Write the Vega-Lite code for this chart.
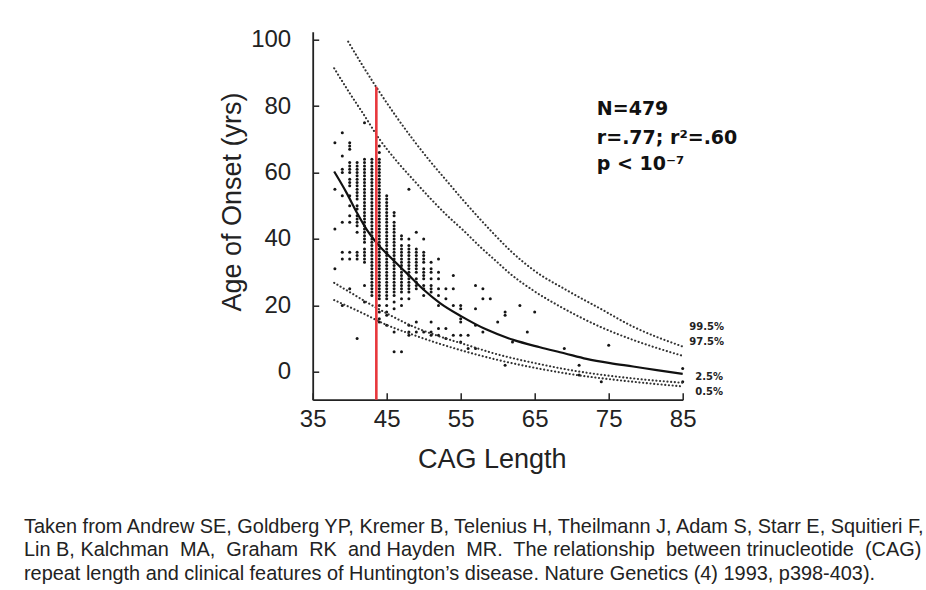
{
  "$schema": "https://vega.github.io/schema/vega-lite/v6.json",
  "width": 370,
  "height": 368,
  "autosize": "none",
  "padding": {"left": 312.7, "top": 31.7, "right": 243.3, "bottom": 190.3},
  "background": "white",
  "config": {"view": {"stroke": null}, "font": "Liberation Sans"},
  "title": {
    "text": [
      "Taken from Andrew SE, Goldberg YP, Kremer B, Telenius H, Theilmann J, Adam S, Starr E, Squitieri F,",
      "Lin B, Kalchman\u00a0 MA,\u00a0 Graham\u00a0 RK\u00a0 and Hayden\u00a0 MR.\u00a0 The relationship\u00a0 between trinucleotide\u00a0 (CAG)",
      "repeat length and clinical features of Huntington’s disease. Nature Genetics (4) 1993, p398-403)."
    ],
    "orient": "bottom",
    "anchor": "start",
    "frame": "group",
    "dx": -288.7,
    "offset": 44,
    "baseline": "top",
    "font": "Liberation Sans",
    "fontSize": 19.9,
    "fontWeight": "normal",
    "color": "#222222",
    "lineHeight": 23.7
  },
  "datasets": {
    "points": [
      {"cag":38,"age":69},{"cag":38,"age":55},{"cag":38,"age":43},{"cag":38,"age":31},
      {"cag":39,"age":72},{"cag":39,"age":65},{"cag":39,"age":61},{"cag":39,"age":60},{"cag":39,"age":53},{"cag":39,"age":45},{"cag":39,"age":36},{"cag":39,"age":34},{"cag":39,"age":20},
      {"cag":40,"age":69},{"cag":40,"age":68},{"cag":40,"age":67},{"cag":40,"age":63},{"cag":40,"age":62},{"cag":40,"age":61},{"cag":40,"age":60},{"cag":40,"age":58},{"cag":40,"age":57},{"cag":40,"age":56},{"cag":40,"age":53},{"cag":40,"age":50},{"cag":40,"age":47},{"cag":40,"age":45},{"cag":40,"age":36},{"cag":40,"age":34},{"cag":40,"age":25},
      {"cag":41,"age":63},{"cag":41,"age":62},{"cag":41,"age":61},{"cag":41,"age":60},{"cag":41,"age":59},{"cag":41,"age":58},{"cag":41,"age":57},{"cag":41,"age":56},{"cag":41,"age":55},{"cag":41,"age":54},{"cag":41,"age":53},{"cag":41,"age":52},{"cag":41,"age":50},{"cag":41,"age":49},{"cag":41,"age":47},{"cag":41,"age":46},{"cag":41,"age":45},{"cag":41,"age":44},{"cag":41,"age":42},{"cag":41,"age":36},{"cag":41,"age":35},{"cag":41,"age":34},{"cag":41,"age":10},
      {"cag":42,"age":75},{"cag":42,"age":64},{"cag":42,"age":63},{"cag":42,"age":62},{"cag":42,"age":61},{"cag":42,"age":60},{"cag":42,"age":59},{"cag":42,"age":58},{"cag":42,"age":57},{"cag":42,"age":56},{"cag":42,"age":55},{"cag":42,"age":54},{"cag":42,"age":53},{"cag":42,"age":52},{"cag":42,"age":51},{"cag":42,"age":50},{"cag":42,"age":49},{"cag":42,"age":48},{"cag":42,"age":47},{"cag":42,"age":46},{"cag":42,"age":45},{"cag":42,"age":44},{"cag":42,"age":43},{"cag":42,"age":42},{"cag":42,"age":41},{"cag":42,"age":40},{"cag":42,"age":39},{"cag":42,"age":37},{"cag":42,"age":36},{"cag":42,"age":35},{"cag":42,"age":34},{"cag":42,"age":33},{"cag":42,"age":26},{"cag":42,"age":21},
      {"cag":43,"age":64},{"cag":43,"age":63},{"cag":43,"age":62},{"cag":43,"age":61},{"cag":43,"age":60},{"cag":43,"age":59},{"cag":43,"age":58},{"cag":43,"age":57},{"cag":43,"age":56},{"cag":43,"age":55},{"cag":43,"age":54},{"cag":43,"age":53},{"cag":43,"age":52},{"cag":43,"age":51},{"cag":43,"age":50},{"cag":43,"age":49},{"cag":43,"age":48},{"cag":43,"age":47},{"cag":43,"age":46},{"cag":43,"age":45},{"cag":43,"age":44},{"cag":43,"age":43},{"cag":43,"age":42},{"cag":43,"age":41},{"cag":43,"age":40},{"cag":43,"age":39},{"cag":43,"age":38},{"cag":43,"age":37},{"cag":43,"age":36},{"cag":43,"age":35},{"cag":43,"age":34},{"cag":43,"age":33},{"cag":43,"age":32},{"cag":43,"age":31},{"cag":43,"age":30},{"cag":43,"age":29},{"cag":43,"age":28},{"cag":43,"age":27},{"cag":43,"age":26},{"cag":43,"age":25},{"cag":43,"age":24},{"cag":43,"age":23},
      {"cag":44,"age":68},{"cag":44,"age":66},{"cag":44,"age":64},{"cag":44,"age":63},{"cag":44,"age":62},{"cag":44,"age":61},{"cag":44,"age":60},{"cag":44,"age":59},{"cag":44,"age":58},{"cag":44,"age":57},{"cag":44,"age":56},{"cag":44,"age":55},{"cag":44,"age":54},{"cag":44,"age":53},{"cag":44,"age":52},{"cag":44,"age":51},{"cag":44,"age":50},{"cag":44,"age":49},{"cag":44,"age":48},{"cag":44,"age":47},{"cag":44,"age":46},{"cag":44,"age":45},{"cag":44,"age":44},{"cag":44,"age":43},{"cag":44,"age":42},{"cag":44,"age":41},{"cag":44,"age":40},{"cag":44,"age":39},{"cag":44,"age":38},{"cag":44,"age":37},{"cag":44,"age":36},{"cag":44,"age":35},{"cag":44,"age":34},{"cag":44,"age":33},{"cag":44,"age":32},{"cag":44,"age":31},{"cag":44,"age":30},{"cag":44,"age":29},{"cag":44,"age":28},{"cag":44,"age":27},{"cag":44,"age":26},{"cag":44,"age":25},{"cag":44,"age":24},{"cag":44,"age":23},{"cag":44,"age":22},{"cag":44,"age":20},{"cag":44,"age":18},{"cag":44,"age":16},{"cag":44,"age":15},
      {"cag":45,"age":53},{"cag":45,"age":52},{"cag":45,"age":51},{"cag":45,"age":50},{"cag":45,"age":49},{"cag":45,"age":48},{"cag":45,"age":47},{"cag":45,"age":46},{"cag":45,"age":45},{"cag":45,"age":44},{"cag":45,"age":43},{"cag":45,"age":42},{"cag":45,"age":41},{"cag":45,"age":40},{"cag":45,"age":39},{"cag":45,"age":38},{"cag":45,"age":37},{"cag":45,"age":36},{"cag":45,"age":35},{"cag":45,"age":34},{"cag":45,"age":33},{"cag":45,"age":32},{"cag":45,"age":31},{"cag":45,"age":30},{"cag":45,"age":29},{"cag":45,"age":28},{"cag":45,"age":27},{"cag":45,"age":26},{"cag":45,"age":25},{"cag":45,"age":24},{"cag":45,"age":23},{"cag":45,"age":22},{"cag":45,"age":20},{"cag":45,"age":18},{"cag":45,"age":17},{"cag":45,"age":14},
      {"cag":46,"age":48},{"cag":46,"age":47},{"cag":46,"age":45},{"cag":46,"age":44},{"cag":46,"age":43},{"cag":46,"age":42},{"cag":46,"age":41},{"cag":46,"age":40},{"cag":46,"age":39},{"cag":46,"age":38},{"cag":46,"age":37},{"cag":46,"age":36},{"cag":46,"age":35},{"cag":46,"age":34},{"cag":46,"age":33},{"cag":46,"age":32},{"cag":46,"age":31},{"cag":46,"age":30},{"cag":46,"age":29},{"cag":46,"age":28},{"cag":46,"age":27},{"cag":46,"age":26},{"cag":46,"age":25},{"cag":46,"age":24},{"cag":46,"age":23},{"cag":46,"age":21},{"cag":46,"age":19},{"cag":46,"age":12},{"cag":46,"age":6},
      {"cag":47,"age":41},{"cag":47,"age":40},{"cag":47,"age":38},{"cag":47,"age":37},{"cag":47,"age":36},{"cag":47,"age":35},{"cag":47,"age":34},{"cag":47,"age":33},{"cag":47,"age":32},{"cag":47,"age":31},{"cag":47,"age":30},{"cag":47,"age":29},{"cag":47,"age":28},{"cag":47,"age":27},{"cag":47,"age":26},{"cag":47,"age":25},{"cag":47,"age":24},{"cag":47,"age":22},{"cag":47,"age":20},{"cag":47,"age":6},
      {"cag":48,"age":55},{"cag":48,"age":40},{"cag":48,"age":38},{"cag":48,"age":37},{"cag":48,"age":36},{"cag":48,"age":35},{"cag":48,"age":34},{"cag":48,"age":33},{"cag":48,"age":32},{"cag":48,"age":31},{"cag":48,"age":30},{"cag":48,"age":29},{"cag":48,"age":28},{"cag":48,"age":27},{"cag":48,"age":26},{"cag":48,"age":25},{"cag":48,"age":24},{"cag":48,"age":22},{"cag":48,"age":14},{"cag":48,"age":12},{"cag":48,"age":11},
      {"cag":49,"age":42},{"cag":49,"age":37},{"cag":49,"age":36},{"cag":49,"age":35},{"cag":49,"age":34},{"cag":49,"age":33},{"cag":49,"age":32},{"cag":49,"age":31},{"cag":49,"age":30},{"cag":49,"age":28},{"cag":49,"age":27},{"cag":49,"age":26},{"cag":49,"age":25},{"cag":49,"age":15},{"cag":49,"age":12},
      {"cag":50,"age":40},{"cag":50,"age":36},{"cag":50,"age":35},{"cag":50,"age":34},{"cag":50,"age":33},{"cag":50,"age":31},{"cag":50,"age":30},{"cag":50,"age":29},{"cag":50,"age":28},{"cag":50,"age":26},{"cag":50,"age":25},{"cag":50,"age":23},{"cag":50,"age":12},
      {"cag":51,"age":33},{"cag":51,"age":31},{"cag":51,"age":30},{"cag":51,"age":28},{"cag":51,"age":26},{"cag":51,"age":25},{"cag":51,"age":24},{"cag":51,"age":15},{"cag":51,"age":12},{"cag":51,"age":11},
      {"cag":52,"age":34},{"cag":52,"age":30},{"cag":52,"age":28},{"cag":52,"age":25},{"cag":52,"age":23},{"cag":52,"age":20},{"cag":52,"age":13},{"cag":52,"age":11},
      {"cag":53,"age":25},{"cag":53,"age":22},{"cag":53,"age":13},{"cag":53,"age":10},
      {"cag":54,"age":29},{"cag":54,"age":25},{"cag":54,"age":20},{"cag":54,"age":11},
      {"cag":55,"age":20},{"cag":55,"age":19},{"cag":55,"age":16},{"cag":55,"age":15},{"cag":55,"age":11},{"cag":55,"age":9},
      {"cag":56,"age":11},{"cag":56,"age":7},
      {"cag":57,"age":26},{"cag":57,"age":19},{"cag":57,"age":14},{"cag":57,"age":7},
      {"cag":58,"age":25},{"cag":58,"age":22},{"cag":58,"age":12},
      {"cag":59,"age":22},
      {"cag":60,"age":15},
      {"cag":61,"age":18},{"cag":61,"age":17},{"cag":61,"age":2},
      {"cag":62,"age":9},
      {"cag":63,"age":20},
      {"cag":64,"age":12},
      {"cag":65,"age":18},
      {"cag":69,"age":7},
      {"cag":71,"age":2},{"cag":71,"age":-1},
      {"cag":74,"age":-3},
      {"cag":75,"age":8},
      {"cag":85,"age":1},{"cag":85,"age":-3}
    ],
    "curves": [
      {"curve":"fit","cag":37.9,"age":60.3},{"curve":"fit","cag":39.6,"age":53.8},{"curve":"fit","cag":41,"age":47.8},{"curve":"fit","cag":42.3,"age":42.8},{"curve":"fit","cag":43.6,"age":38.9},{"curve":"fit","cag":45.4,"age":34.7},{"curve":"fit","cag":47.7,"age":29.7},{"curve":"fit","cag":50,"age":24.7},{"curve":"fit","cag":52.2,"age":20.7},{"curve":"fit","cag":55.1,"age":16.7},{"curve":"fit","cag":58.5,"age":12.7},{"curve":"fit","cag":62.1,"age":9.6},{"curve":"fit","cag":65.7,"age":7.4},{"curve":"fit","cag":69,"age":5.6},{"curve":"fit","cag":72,"age":3.9},{"curve":"fit","cag":75.2,"age":2.6},{"curve":"fit","cag":78.3,"age":1.6},{"curve":"fit","cag":81.5,"age":0.5},{"curve":"fit","cag":85,"age":-0.6},
      {"curve":"p995","cag":39.8,"age":99.4},{"curve":"p995","cag":41.8,"age":92},{"curve":"p995","cag":44.1,"age":84},{"curve":"p995","cag":46.4,"age":76.5},{"curve":"p995","cag":48.6,"age":69.8},{"curve":"p995","cag":50.9,"age":63.3},{"curve":"p995","cag":53.1,"age":57.5},{"curve":"p995","cag":55.4,"age":51.5},{"curve":"p995","cag":57.6,"age":46},{"curve":"p995","cag":59.7,"age":41},{"curve":"p995","cag":61.7,"age":36.5},{"curve":"p995","cag":64.8,"age":30.7},{"curve":"p995","cag":69.3,"age":24.6},{"curve":"p995","cag":73.8,"age":19.1},{"curve":"p995","cag":78.3,"age":13.6},{"curve":"p995","cag":85,"age":7.6},
      {"curve":"p975","cag":37.9,"age":91.4},{"curve":"p975","cag":40,"age":83.9},{"curve":"p975","cag":41.8,"age":77.8},{"curve":"p975","cag":44.1,"age":69.8},{"curve":"p975","cag":46.4,"age":63.3},{"curve":"p975","cag":48.6,"age":57.8},{"curve":"p975","cag":50.9,"age":52.2},{"curve":"p975","cag":53.1,"age":47.2},{"curve":"p975","cag":55.4,"age":42.5},{"curve":"p975","cag":57.6,"age":37.7},{"curve":"p975","cag":59.7,"age":33.5},{"curve":"p975","cag":61.7,"age":29.5},{"curve":"p975","cag":64.8,"age":24.5},{"curve":"p975","cag":69.3,"age":18.6},{"curve":"p975","cag":73.8,"age":13.6},{"curve":"p975","cag":78.3,"age":9.6},{"curve":"p975","cag":85,"age":4.8},
      {"curve":"p025","cag":37.9,"age":26.8},{"curve":"p025","cag":40,"age":24},{"curve":"p025","cag":41.8,"age":21.6},{"curve":"p025","cag":45,"age":17.6},{"curve":"p025","cag":48.6,"age":13.6},{"curve":"p025","cag":52.2,"age":10.6},{"curve":"p025","cag":55.8,"age":8.1},{"curve":"p025","cag":59.4,"age":5.6},{"curve":"p025","cag":65.7,"age":2.3},{"curve":"p025","cag":69.1,"age":0.8},{"curve":"p025","cag":78.3,"age":-2},{"curve":"p025","cag":85,"age":-3.3},
      {"curve":"p005","cag":37.9,"age":21.6},{"curve":"p005","cag":41.8,"age":17.6},{"curve":"p005","cag":45,"age":14.1},{"curve":"p005","cag":48.6,"age":11.1},{"curve":"p005","cag":52.2,"age":8.4},{"curve":"p005","cag":55.8,"age":6},{"curve":"p005","cag":59.4,"age":3.9},{"curve":"p005","cag":65.7,"age":0.9},{"curve":"p005","cag":69.3,"age":-0.5},{"curve":"p005","cag":78.3,"age":-3},{"curve":"p005","cag":85,"age":-4.4}
    ]
  },
  "layer": [
    {
      "data": {"name": "points"},
      "mark": {"type": "circle", "size": 9, "color": "#151515", "opacity": 1},
      "encoding": {
        "x": {
          "field": "cag", "type": "quantitative",
          "scale": {"domain": [35, 85], "nice": false, "zero": false},
          "axis": {
            "title": "CAG Length",
            "values": [35, 40, 45, 50, 55, 60, 65, 70, 75, 80, 85],
            "labelExpr": "datum.value % 10 === 5 ? datum.label : ''",
            "tickSize": {"condition": {"test": "datum.value % 10 === 5", "value": -7}, "value": -4},
            "tickColor": "#222222", "tickWidth": 1.5,
            "domainColor": "#222222", "domainWidth": 1.8,
            "labelFont": "Liberation Sans", "labelFontSize": 24, "labelColor": "#222222", "labelPadding": 15,
            "labelFlush": false, "labelOverlap": false, "grid": false,
            "titleFont": "Liberation Sans", "titleFontSize": 27, "titleFontWeight": "normal", "titleColor": "#222222",
            "titleX": 179, "titleY": 68, "titleBaseline": "alphabetic", "titleAlign": "center"
          }
        },
        "y": {
          "field": "age", "type": "quantitative",
          "scale": {"domain": [-8.4, 102.4], "nice": false, "zero": false},
          "axis": {
            "title": "Age of Onset (yrs)",
            "values": [0, 10, 20, 30, 40, 50, 60, 70, 80, 90, 100],
            "labelExpr": "datum.value % 20 === 0 ? datum.label : ''",
            "tickSize": -6,
            "tickColor": "#222222", "tickWidth": 1.5,
            "domainColor": "#222222", "domainWidth": 1.8,
            "labelFont": "Liberation Sans", "labelFontSize": 24, "labelColor": "#222222", "labelPadding": 28,
            "labelFlush": false, "labelOverlap": false, "grid": false,
            "titleFont": "Liberation Sans", "titleFontSize": 27, "titleFontWeight": "normal", "titleColor": "#222222",
            "titleX": -72.2, "titleY": 169.8, "titleBaseline": "alphabetic", "titleAlign": "center", "titleAngle": 270
          }
        }
      }
    },
    {
      "data": {"name": "curves"},
      "transform": [{"filter": "datum.curve !== 'fit'"}],
      "mark": {"type": "line", "color": "#333333", "strokeWidth": 2.1, "strokeDash": [0.1, 3.6], "strokeCap": "round", "interpolate": "monotone"},
      "encoding": {
        "x": {"field": "cag", "type": "quantitative"},
        "y": {"field": "age", "type": "quantitative"},
        "detail": {"field": "curve"}
      }
    },
    {
      "data": {"name": "curves"},
      "transform": [{"filter": "datum.curve === 'fit'"}],
      "mark": {"type": "line", "color": "#111111", "strokeWidth": 2.2, "interpolate": "monotone"},
      "encoding": {
        "x": {"field": "cag", "type": "quantitative"},
        "y": {"field": "age", "type": "quantitative"}
      }
    },
    {
      "data": {"values": [{}]},
      "mark": {"type": "text", "font": "DejaVu Sans", "fontWeight": "bold", "fontSize": 19, "align": "left", "baseline": "alphabetic", "color": "#111111", "text": "N=479"},
      "encoding": {"x": {"datum": 73.4}, "y": {"datum": 77.3}}
    },
    {
      "data": {"values": [{}]},
      "mark": {"type": "text", "font": "DejaVu Sans", "fontWeight": "bold", "fontSize": 19, "align": "left", "baseline": "alphabetic", "color": "#111111", "text": "r=.77; r²=.60"},
      "encoding": {"x": {"datum": 73.4}, "y": {"datum": 68.6}}
    },
    {
      "data": {"values": [{}]},
      "mark": {"type": "text", "font": "DejaVu Sans", "fontWeight": "bold", "fontSize": 19, "align": "left", "baseline": "alphabetic", "color": "#111111", "text": "p < 10⁻⁷"},
      "encoding": {"x": {"datum": 73.4}, "y": {"datum": 60.8}}
    },
    {
      "data": {"values": [{}]},
      "mark": {"type": "text", "font": "DejaVu Sans", "fontWeight": "bold", "fontSize": 10, "align": "left", "baseline": "middle", "color": "#222222", "text": "99.5%"},
      "encoding": {"x": {"datum": 85.9}, "y": {"datum": 13.6}}
    },
    {
      "data": {"values": [{}]},
      "mark": {"type": "text", "font": "DejaVu Sans", "fontWeight": "bold", "fontSize": 10, "align": "left", "baseline": "middle", "color": "#222222", "text": "97.5%"},
      "encoding": {"x": {"datum": 85.9}, "y": {"datum": 9.1}}
    },
    {
      "data": {"values": [{}]},
      "mark": {"type": "text", "font": "DejaVu Sans", "fontWeight": "bold", "fontSize": 10, "align": "left", "baseline": "middle", "color": "#222222", "text": "2.5%"},
      "encoding": {"x": {"datum": 86.7}, "y": {"datum": -1.7}}
    },
    {
      "data": {"values": [{}]},
      "mark": {"type": "text", "font": "DejaVu Sans", "fontWeight": "bold", "fontSize": 10, "align": "left", "baseline": "middle", "color": "#222222", "text": "0.5%"},
      "encoding": {"x": {"datum": 86.7}, "y": {"datum": -6.0}}
    },
    {
      "data": {"values": [{}]},
      "mark": {"type": "rule", "color": "#e8373c", "strokeWidth": 2.6},
      "encoding": {"x": {"datum": 43.6}, "y": {"datum": 85.8}, "y2": {"datum": -8.4}}
    }
  ]
}
